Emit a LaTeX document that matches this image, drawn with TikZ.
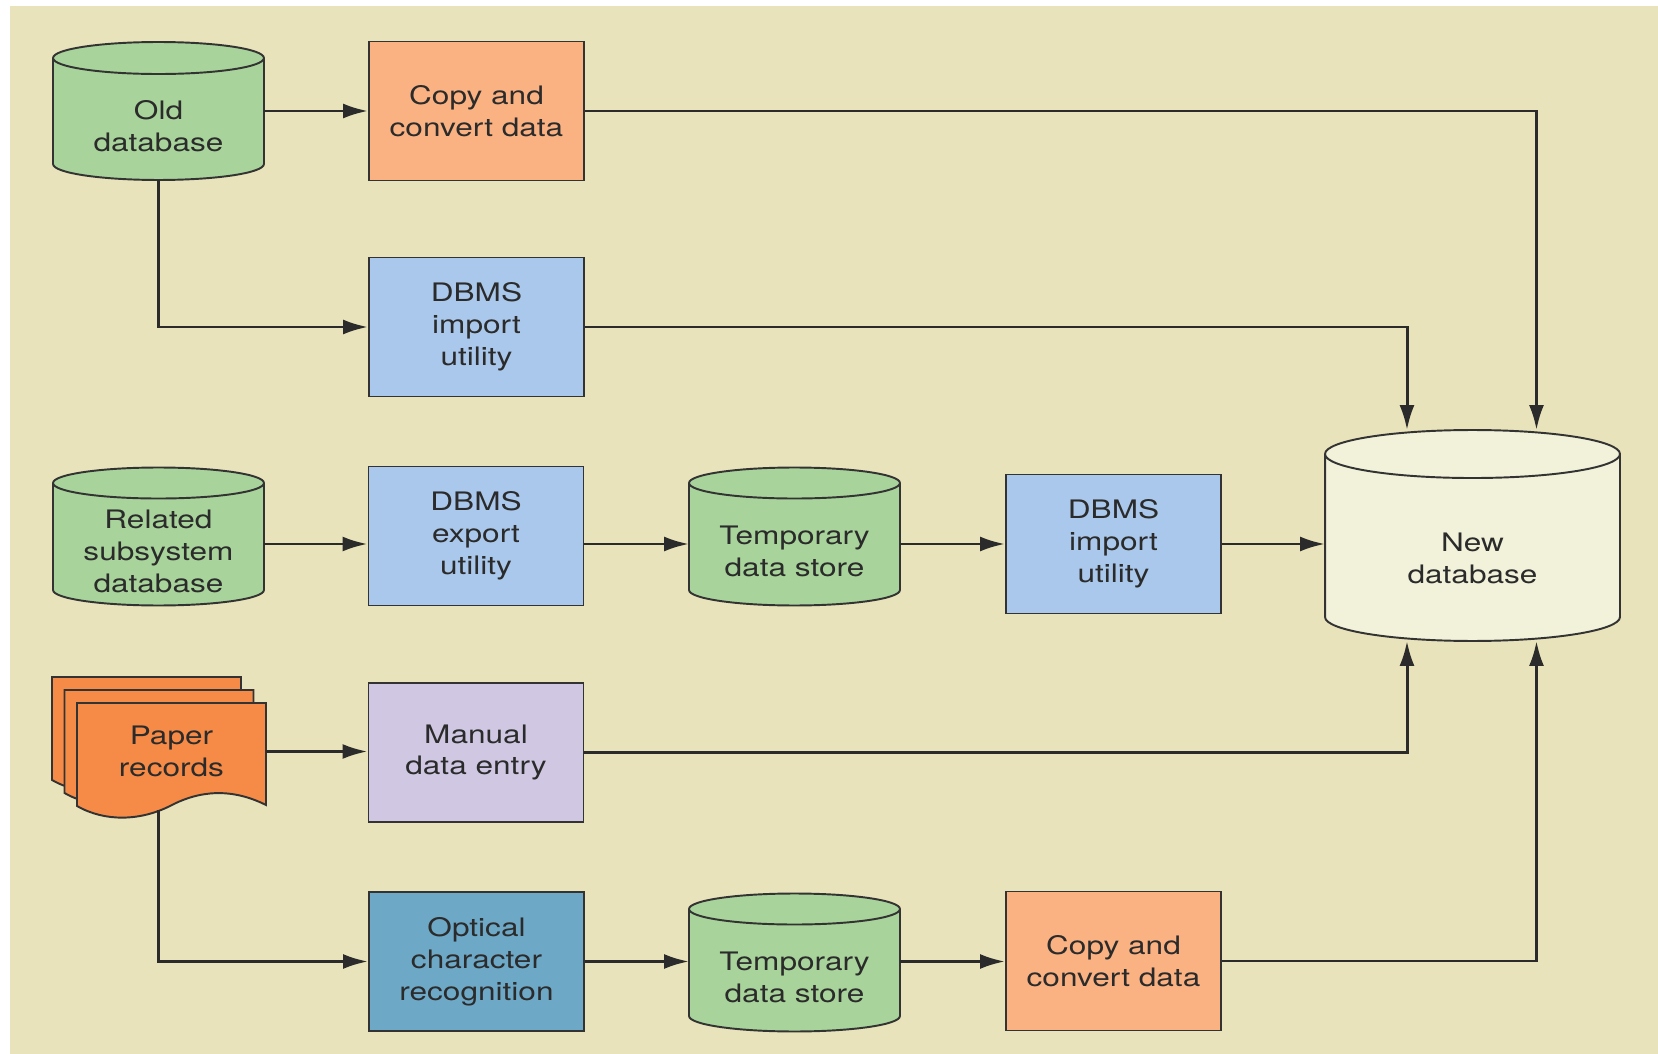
\documentclass[tikz,border=0pt]{standalone}
\usepackage{fontspec}
\setmainfont{TeX Gyre Heros}[FakeStretch=1.24]
\usepackage{tikz}
\usetikzlibrary{arrows.meta,calc,backgrounds}

\definecolor{bgtan}{HTML}{E8E3BA}
\definecolor{dbgreen}{HTML}{A8D49B}
\definecolor{copyorange}{HTML}{FAB283}
\definecolor{dbmsblue}{HTML}{AAC8EB}
\definecolor{manualpurple}{HTML}{D0C8E3}
\definecolor{ocrteal}{HTML}{6EA8C7}
\definecolor{paperorange}{HTML}{F58B47}
\definecolor{newdbcream}{HTML}{F2F1D9}
\definecolor{edgegray}{HTML}{333333}
\definecolor{inkgray}{HTML}{2B2B2B}

% drum outline round a named node: node, x radius, y radius, fill
\newcommand\drum[4]{%
  \draw[drumline, fill=#4] ([yshift=-#3]#1.north west) -- ([yshift=#3]#1.south west)
    arc[start angle=180, end angle=360, x radius=#2, y radius=#3]
    -- ([yshift=-#3]#1.north east)
    arc[start angle=0, end angle=180, x radius=#2, y radius=#3] -- cycle
    ([yshift=-#3]#1.north west) arc[start angle=180, end angle=360, x radius=#2, y radius=#3];
}

\begin{document}
\begin{tikzpicture}[x=0.02cm, y=-0.02cm,
  every node/.style = {align=center, text=inkgray, font=\fontsize{14.5pt}{18.2pt}\selectfont},
  procbox/.style = {rectangle, draw=edgegray, line width=1.1pt, minimum width=4.3cm, minimum height=2.78cm, inner sep=0pt},
  dbstore/.style = {rectangle, minimum width=4.22cm, minimum height=2.76cm, inner sep=0pt, outer sep=0pt},
  dblabel/.style = {yshift=#1}, dblabel/.default=-0.3cm,
  drumline/.style = {draw=edgegray, line width=1.1pt},
  sheet/.style = {draw=edgegray, line width=1.1pt, fill=paperorange},
  flow/.style = {draw=inkgray, line width=1.7pt, -{Latex[length=0.5cm, width=0.3cm]}}]

  \useasboundingbox (0,0) rectangle (1658,1054);

  \node[dbstore, label={[dblabel]center:Old\\database}] (olddb) at (158.5,111) {};
  \node[procbox, fill=copyorange] (copya) at (476.5,111) {Copy and\\convert data};
  \node[procbox, fill=dbmsblue] (impa) at (476.5,327) {DBMS\\import\\utility};

  \node[dbstore, label={[dblabel]center:Related\\subsystem\\database}] (reldb) at (158.5,536.5) {};
  \node[procbox, fill=dbmsblue] (expo) at (476,536) {DBMS\\export\\utility};
  \node[dbstore, label={[dblabel]center:Temporary\\data store}] (tmpa) at (794.5,536.5) {};
  \node[procbox, fill=dbmsblue] (impb) at (1113.5,544) {DBMS\\import\\utility};
  \node[dbstore, minimum width=5.9cm, minimum height=4.22cm,
    label={[dblabel=-0.46cm]center:New\\database}] (newdb) at (1472.5,535.5) {};

  % stack of paper sheets
  \foreach \k in {2,1,0}
    \draw[sheet, shift={(-12.5*\k,-13*\k)}] (77,703) -- (266,703) -- (266,805)
      .. controls (232,788) and (200,790) .. (170,806)
      .. controls (140,821) and (105,822) .. (77,806) -- cycle;
  \node[minimum width=3.78cm, minimum height=2.06cm, inner sep=0pt] (paper) at (171.5,751.5) {Paper\\records};
  \coordinate (paperfoot) at (158.5,810);

  \node[procbox, fill=manualpurple] (manual) at (476,752.5) {Manual\\data entry};
  \node[procbox, fill=ocrteal] (ocr) at (476.5,961.5) {Optical\\character\\recognition};
  \node[dbstore, label={[dblabel]center:Temporary\\data store}] (tmpb) at (794.5,962.5) {};
  \node[procbox, fill=copyorange] (copyb) at (1113.5,961) {Copy and\\convert data};

  \begin{scope}[on background layer]
    \fill[bgtan] (10,6) rectangle (1658,1054);
    \drum{olddb}{2.11cm}{0.32cm}{dbgreen}
    \drum{reldb}{2.11cm}{0.31cm}{dbgreen}
    \drum{tmpa}{2.11cm}{0.31cm}{dbgreen}
    \drum{tmpb}{2.11cm}{0.31cm}{dbgreen}
    \drum{newdb}{2.95cm}{0.48cm}{newdbcream}
  \end{scope}

  \draw[flow] (olddb.east |- copya.west) -- (copya.west);
  \draw[flow] (copya.east) -| ($(newdb.north)+(64,0)$);
  \draw[flow] (olddb.south) |- (impa.west);
  \draw[flow] (impa.east) -| ($(newdb.north)+(-65.5,0)$);

  \draw[flow] (reldb.east |- impb.west) -- (expo.west |- impb.west);
  \draw[flow] (expo.east |- impb.west) -- (tmpa.west |- impb.west);
  \draw[flow] (tmpa.east |- impb.west) -- (impb.west);
  \draw[flow] (impb.east) -- (newdb.west |- impb.east);

  \draw[flow] (paper.east) -- (manual.west |- paper.east);
  \draw[flow] (manual.east) -| ($(newdb.south)+(-65.5,0)$);
  \draw[flow] (paperfoot) |- (ocr.west);
  \draw[flow] (ocr.east) -- (tmpb.west |- ocr.east);
  \draw[flow] (tmpb.east |- ocr.east) -- (copyb.west |- ocr.east);
  \draw[flow] (copyb.east) -| ($(newdb.south)+(64,0)$);
\end{tikzpicture}
\end{document}
